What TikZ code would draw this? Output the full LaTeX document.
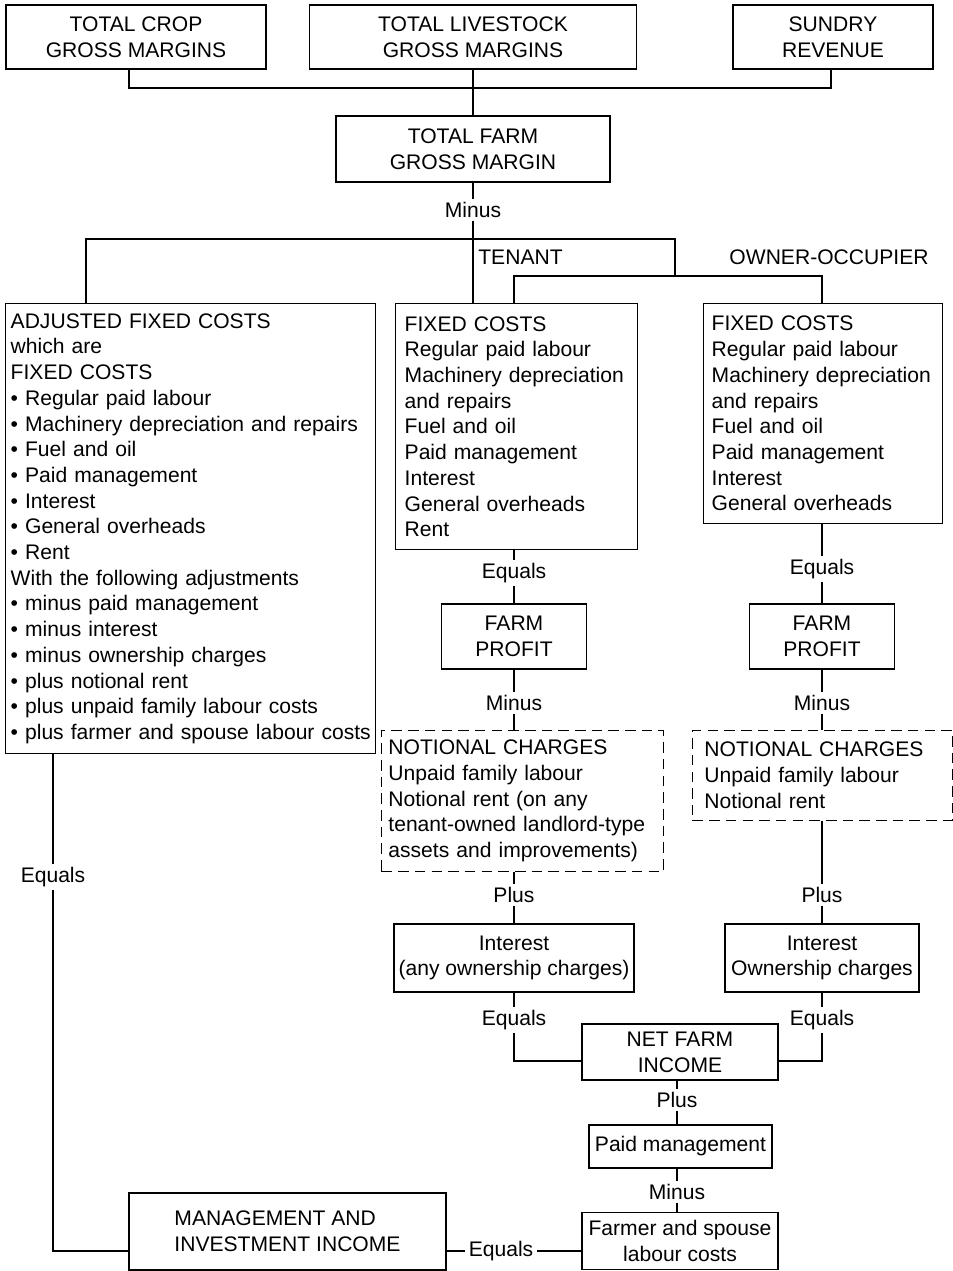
\documentclass[tikz,border=0pt]{standalone}
\usepackage{fontspec}
\setmainfont{Liberation Sans}
\begin{document}
\begin{tikzpicture}[x=0.02cm, y=-0.02cm,
                    every node/.style = {font=\fontsize{12}{14.63}\selectfont},
                    mbox/.style = {draw, line width=0.8pt, align=center, inner sep=0pt},
                    mlist/.style = {draw, line width=0.8pt, anchor=north west,
                                    align=left, inner ysep=0pt},
                    mdash/.style = {mlist, line width=0.5pt, dash pattern=on 6pt off 3.5pt},
                    mword/.style = {inner xsep=2pt, inner ysep=1.5pt}]
		\useasboundingbox (0,0) rectangle (953,1271);
		% top row
		\node[mbox, minimum width=5.2cm, minimum height=1.28cm] (crop) at (136,37) {TOTAL CROP\\GROSS MARGINS};
		\node[mbox, minimum width=6.54cm, minimum height=1.28cm] (stock) at (473,37) {TOTAL LIVESTOCK\\GROSS MARGINS};
		\node[mbox, minimum width=4cm, minimum height=1.28cm] (sundry) at (833,37) {SUNDRY\\REVENUE};
		\node[mbox, minimum width=5.48cm, minimum height=1.32cm] (tfgm) at (473,149) {TOTAL FARM\\GROSS MARGIN};
		\node[mword] (minus1) at (473,210) {Minus};
		\node[anchor=west, inner sep=0pt] (tenant) at (478,257) {TENANT};
		\node[inner sep=0pt] (owner) at (829,257) {OWNER-OCCUPIER};
		% fixed costs
		\node[mlist, minimum height=9cm, text width=7.2cm, inner xsep=0.1cm] (adj) at (5,303)
		     {ADJUSTED FIXED COSTS\\which are\\FIXED COSTS\\• Regular paid labour\\\mbox{• Machinery depreciation and repairs}\\
		      • Fuel and oil\\• Paid management\\• Interest\\• General overheads\\• Rent\\With the following adjustments\\
		      • minus paid management\\• minus interest\\• minus ownership charges\\• plus notional rent\\
		      • plus unpaid family labour costs\\\mbox{• plus farmer and spouse labour costs}};
		\node[mlist, minimum height=4.92cm, text width=4.48cm, inner xsep=0.18cm] (tfix) at (395,303)
		     {FIXED COSTS\\Regular paid labour\\\mbox{Machinery depreciation}\\and repairs\\Fuel and oil\\Paid management\\
		      Interest\\General overheads\\Rent};
		\node[mlist, minimum height=4.4cm, text width=4.46cm, inner xsep=0.16cm] (ofix) at (703,303)
		     {FIXED COSTS\\Regular paid labour\\\mbox{Machinery depreciation}\\and repairs\\Fuel and oil\\Paid management\\
		      Interest\\General overheads};
		% tenant column
		\node[mword] (teq1) at (514,573) {Equals};
		\node[mbox, minimum width=2.9cm, minimum height=1.3cm] (tprofit) at (514,636.5) {FARM\\PROFIT};
		\node[mword] (tminus) at (514,703) {Minus};
		\node[mdash, minimum height=2.82cm, text width=5.36cm, inner xsep=0.14cm] (tnot) at (381,730)
		     {NOTIONAL CHARGES\\Unpaid family labour\\Notional rent (on any\\\mbox{tenant-owned landlord-type}\\assets and improvements)};
		\node[mword] (tplus) at (514,895) {Plus};
		\node[mbox, minimum width=4.8cm, minimum height=1.36cm] (tint) at (514,958) {Interest\\(any ownership charges)};
		\node[mword] (teq2) at (514,1020) {Equals};
		% owner-occupier column
		\node[mword] (oeq1) at (822,569) {Equals};
		\node[mbox, minimum width=2.9cm, minimum height=1.3cm] (oprofit) at (822,636.5) {FARM\\PROFIT};
		\node[mword] (ominus) at (822,703) {Minus};
		\node[mdash, minimum height=1.8cm, text width=4.72cm, inner xsep=0.24cm] (onot) at (692,730)
		     {NOTIONAL CHARGES\\Unpaid family labour\\Notional rent};
		\node[mword] (oplus) at (822,895) {Plus};
		\node[mbox, minimum width=3.88cm, minimum height=1.36cm] (oint) at (822,958) {Interest\\Ownership charges};
		\node[mword] (oeq2) at (822,1020) {Equals};
		% bottom
		\node[mbox, minimum width=3.92cm, minimum height=1.12cm] (nfi) at (680,1052) {NET FARM\\INCOME};
		\node[mword] (nplus) at (677,1100) {Plus};
		\node[mbox, minimum width=3.66cm, minimum height=0.86cm] (paid) at (680.5,1146.5) {Paid management};
		\node[mword] (nminus) at (677,1192) {Minus};
		\node[mbox, minimum width=3.92cm, minimum height=1.15cm] (farmer) at (680,1241) {Farmer and spouse\\labour costs};
		\node[mbox, align=left, minimum width=6.34cm, minimum height=1.54cm] (mgmt) at (287.5,1231.5) {MANAGEMENT AND\\INVESTMENT INCOME};
		\node[mword] (eqbot) at (501,1251) {Equals};
		\node[mword] (eqleft) at (53,877) {Equals};
		% connectors
		\coordinate (busL) at (129,88);
		\coordinate (busR) at (831,88);
		\coordinate (splitL) at (86,239);
		\coordinate (splitR) at (675,239);
		\coordinate (forkL) at (514,276);
		\coordinate (forkR) at (822,276);
		\coordinate (nfijoin) at (680,1061);
		\begin{scope}[line width=0.8pt]
			\draw (crop.south -| busL) |- (busR) -- (sundry.south -| busR);
			\draw (stock) -- (tfgm);
			\draw (tfgm) -- (minus1) -- (minus1 |- tfix.north);
			\draw (adj.north -| splitL) -- (splitL) -- (splitR) -- (splitR |- forkL);
			\draw (tfix.north -| forkL) -- (forkL) -- (forkR) -- (ofix.north -| forkR);
			\draw (tfix.south -| teq1) -- (teq1) -- (tprofit) -- (tminus) -- (tminus |- tnot.north);
			\draw (tnot.south -| tplus) -- (tplus) -- (tint) -- (teq2) -- (teq2 |- nfijoin) -- (nfi.west |- nfijoin);
			\draw (ofix.south -| oeq1) -- (oeq1) -- (oprofit) -- (ominus) -- (ominus |- onot.north);
			\draw (onot.south -| oplus) -- (oplus) -- (oint) -- (oeq2) -- (oeq2 |- nfijoin) -- (nfi.east |- nfijoin);
			\draw (nfi.south -| nplus) -- (nplus) -- (nplus |- paid.north);
			\draw (paid.south -| nminus) -- (nminus) -- (nminus |- farmer.north);
			\draw (mgmt.east |- eqbot) -- (eqbot) -- (farmer.west |- eqbot);
			\draw (adj.south -| eqleft) -- (eqleft) -- (eqleft |- eqbot) -- (mgmt.west |- eqbot);
		\end{scope}
	\end{tikzpicture}
\end{document}
